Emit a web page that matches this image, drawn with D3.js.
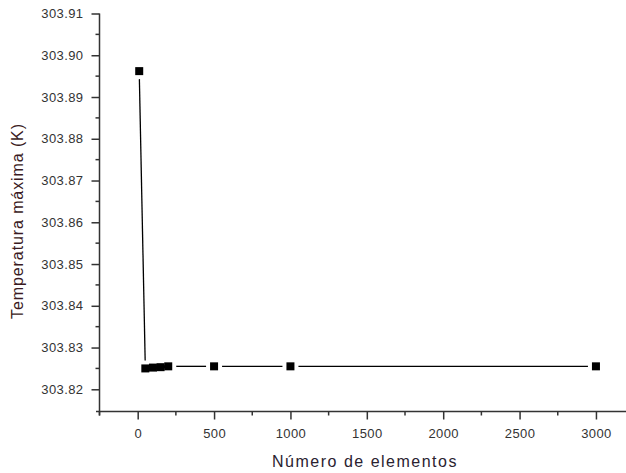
<!DOCTYPE html>
<html><head><meta charset="utf-8">
<script src="https://cdn.jsdelivr.net/npm/d3@7"></script>
<style>body{margin:0;background:#fff}svg{display:block}</style>
</head><body>
<script>
const elementos = [10, 50, 100, 150, 200, 500, 1000, 3000];
const temperatura = [303.8962, 303.8250, 303.8252, 303.8253, 303.8255, 303.8255, 303.8255, 303.8255];
const xTicks = [0, 500, 1000, 1500, 2000, 2500, 3000];
const yTicks = [303.82, 303.83, 303.84, 303.85, 303.86, 303.87, 303.88, 303.89, 303.90, 303.91];

const W = 626, H = 473;
const svg = d3.select("body").append("svg").attr("width", W).attr("height", H);
const x = d3.scaleLinear().domain([-250, 3200]).range([99.5, 626.5]);
const y = d3.scaleLinear().domain([303.82, 303.91]).range([389.3, 13.5]);
const yBottom = 411.5;

const font = "'Liberation Sans', Arial, sans-serif";
// y axis
const yAxis = d3.axisLeft(y).tickValues(yTicks).tickFormat(d3.format(".2f")).tickSize(8).tickPadding(8);
const gy = svg.append("g").attr("transform", "translate(99.5,0)").call(yAxis);
gy.select(".domain").remove();
gy.append("line").attr("x1",0).attr("x2",0).attr("y1",y(303.91)).attr("y2",yBottom+4).attr("stroke","#333").attr("stroke-width",1.5);
gy.selectAll(".tick line").attr("stroke","#333").attr("stroke-width",1.5);
gy.selectAll(".tick text").attr("fill","#333").style("font-family",font).style("font-size","13px").style("letter-spacing","0.4px");
const yMinor = d3.range(0, 9).map(i => 303.825 + i*0.01);
gy.selectAll(".minor").data(yMinor).enter().append("line")
  .attr("x1",-4).attr("x2",0).attr("y1",d=>y(d)).attr("y2",d=>y(d)).attr("stroke","#333").attr("stroke-width",1.5);

// x axis
const xAxis = d3.axisBottom(x).tickValues(xTicks).tickFormat(d3.format("d")).tickSize(8).tickPadding(9);
const gx = svg.append("g").attr("transform", `translate(0,${yBottom})`).call(xAxis);
gx.select(".domain").remove();
gx.append("line").attr("x1",96).attr("x2",W).attr("y1",0).attr("y2",0).attr("stroke","#333").attr("stroke-width",1.5);
gx.selectAll(".tick line").attr("stroke","#333").attr("stroke-width",1.5);
gx.selectAll(".tick text").attr("fill","#333").style("font-family",font).style("font-size","13px").style("letter-spacing","0.4px");
const xMinor = [-250, 250, 750, 1250, 1750, 2250, 2750];
gx.selectAll(".minor").data(xMinor).enter().append("line")
  .attr("x1",d=>x(d)).attr("x2",d=>x(d)).attr("y1",0).attr("y2",4).attr("stroke","#333").attr("stroke-width",1.5);

// line with gaps around markers
const pts = elementos.map((e,i)=>[x(e), y(temperatura[i])]);
const gap = 8;
const lg = svg.append("g");
for (let i = 0; i < pts.length-1; i++) {
  const [x1,y1] = pts[i], [x2,y2] = pts[i+1];
  const dx = x2-x1, dy = y2-y1, L = Math.hypot(dx,dy);
  if (L <= 2*gap) {
    lg.append("line").attr("x1",x1).attr("y1",y1).attr("x2",x2).attr("y2",y2).attr("stroke","#000").attr("stroke-width",3);
  } else {
    const ux = dx/L, uy = dy/L;
    lg.append("line").attr("x1",x1+ux*gap).attr("y1",y1+uy*gap).attr("x2",x2-ux*gap).attr("y2",y2-uy*gap)
      .attr("stroke","#000").attr("stroke-width",1.3);
  }
}
svg.append("g").selectAll("rect").data(pts).enter().append("rect")
  .attr("x",d=>d[0]-4).attr("y",d=>d[1]-4).attr("width",8).attr("height",8).attr("fill","#000");

// titles
svg.append("text").attr("x",365).attr("y",467).attr("text-anchor","middle")
  .style("font-family",font).style("font-size","16px").style("letter-spacing","1.5px").attr("fill","#2a2230")
  .text("Número de elementos");
svg.append("text").attr("transform","translate(23,221) rotate(-90)").attr("text-anchor","middle")
  .style("font-family",font).style("font-size","16px").style("letter-spacing","0.9px").attr("fill","#3a1a22")
  .text("Temperatura máxima (K)");
</script>
</body></html>
